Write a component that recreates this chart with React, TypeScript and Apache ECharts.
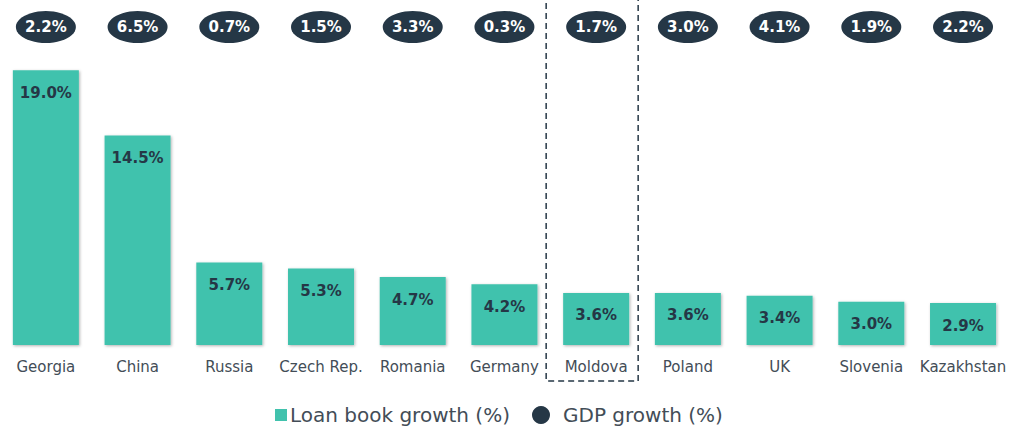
import React, { useEffect, useRef } from "react";
import * as echarts from "echarts";

const categories = ["Georgia", "China", "Russia", "Czech Rep.", "Romania", "Germany", "Moldova", "Poland", "UK", "Slovenia", "Kazakhstan"];
const loanGrowth = [19.0, 14.5, 5.7, 5.3, 4.7, 4.2, 3.6, 3.6, 3.4, 3.0, 2.9];
const gdpGrowth = [2.2, 6.5, 0.7, 1.5, 3.3, 0.3, 1.7, 3.0, 4.1, 1.9, 2.2];
const highlighted = "Moldova";

const TEAL = "#41c2ad";
const NAVY = "#253746";
const GRAY = "#434d57";
const FONT = "DejaVu Sans";
const Y_MAX = 22;

export default function App() {
  const ref = useRef<HTMLDivElement>(null);
  useEffect(() => {
    if (!ref.current) return;
    const chart = echarts.init(ref.current, null, { renderer: "svg" });
    chart.setOption({
      animation: false,
      textStyle: { fontFamily: FONT },
      grid: { left: -2, right: -3, top: 27, bottom: 82, containLabel: false },
      xAxis: {
        type: "category",
        data: categories,
        axisLine: { show: false },
        axisTick: { show: false },
        axisLabel: { color: GRAY, fontSize: 15, margin: 14, fontFamily: FONT, interval: 0, hideOverlap: false },
      },
      yAxis: { type: "value", min: 0, max: Y_MAX, show: false, splitLine: { show: false } },
      legend: [
        {
          data: [{ name: "Loan book growth (%)", icon: "rect" }],
          left: 270,
          top: 400,
          itemWidth: 12,
          itemHeight: 12,
          textStyle: { color: GRAY, fontSize: 20, fontFamily: FONT, padding: [0, 0, 0, -2] },
        },
        {
          data: [{ name: "GDP growth (%)", icon: "circle" }],
          left: 527,
          top: 400,
          itemWidth: 18,
          itemHeight: 18,
          textStyle: { color: GRAY, fontSize: 20, fontFamily: FONT, padding: [0, 0, 0, 8] },
        },
      ],
      series: [
        {
          name: "Loan book growth (%)",
          type: "bar",
          data: loanGrowth,
          barWidth: 66,
          itemStyle: {
            color: TEAL,
            shadowColor: "rgba(0,0,0,0.3)",
            shadowBlur: 3,
            shadowOffsetX: 1,
            shadowOffsetY: 1,
          },
          label: {
            show: true,
            position: "insideTop",
            distance: 15,
            color: NAVY,
            fontWeight: "bold",
            fontSize: 15,
            fontFamily: FONT,
            formatter: (p: any) => p.value.toFixed(1) + "%",
          },
        },
        {
          name: "GDP growth (%)",
          type: "scatter",
          clip: false,
          symbol: "circle",
          symbolSize: [60, 32],
          itemStyle: { color: NAVY, opacity: 1 },
          data: gdpGrowth.map((g, i) => [i, Y_MAX, g]),
          label: {
            show: true,
            position: "inside",
            color: "#ffffff",
            fontWeight: "bold",
            fontSize: 15,
            fontFamily: FONT,
            formatter: (p: any) => p.data[2].toFixed(1) + "%",
          },
        },
      ],
    });
    const idx = categories.indexOf(highlighted);
    const cx = chart.convertToPixel({ xAxisIndex: 0 }, idx) as number;
    chart.setOption({
      graphic: [
        {
          type: "rect",
          shape: { x: cx - 50, y: -3, width: 92, height: 384 },
          style: { fill: "none", stroke: NAVY, lineWidth: 1.5, lineDash: [6, 4] },
          silent: true,
        },
      ],
    });
    return () => chart.dispose();
  }, []);
  return <div ref={ref} style={{ position: "absolute", left: 0, top: 0, width: 1009, height: 427 }} />;
}
